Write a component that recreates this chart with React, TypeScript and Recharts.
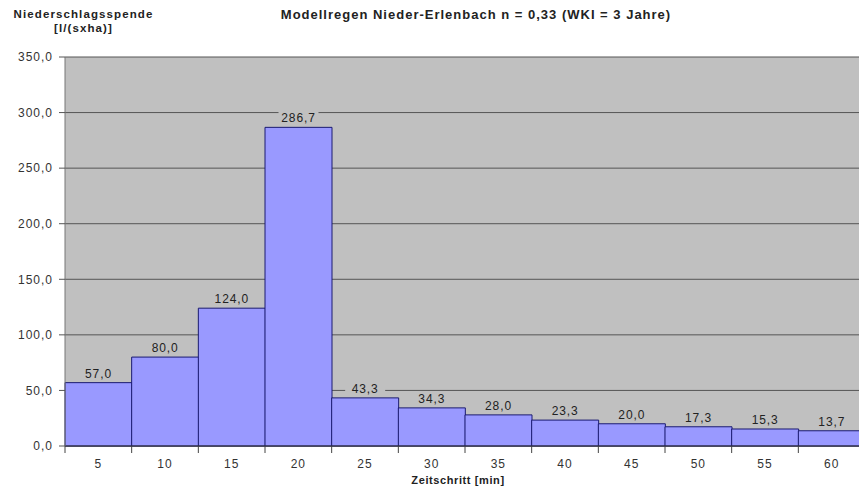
import { BarChart, Bar, XAxis, YAxis, CartesianGrid, LabelList } from 'recharts';

const minutes = [5, 10, 15, 20, 25, 30, 35, 40, 45, 50, 55, 60];
const spende = [57.0, 80.0, 124.0, 286.7, 43.3, 34.3, 28.0, 23.3, 20.0, 17.3, 15.3, 13.7];
const yTicks = [0, 50, 100, 150, 200, 250, 300, 350];

const data = minutes.map((m, i) => ({ min: m, value: spende[i] }));

const fmt = (v: number) => v.toFixed(1).replace('.', ',');
const FONT = '"Liberation Sans", Arial, sans-serif';
const BAND = 800 / 12;

function XTick(props: any) {
  const { x, y, payload } = props;
  return (
    <g>
      <line x1={x - BAND / 2} x2={x - BAND / 2} y1={y} y2={y + 7} stroke="#444" strokeWidth={1} />
      <text x={x} y={y + 22} textAnchor="middle" fontSize={12} fill="#333" fontFamily={FONT} letterSpacing={1}>
        {payload.value}
      </text>
    </g>
  );
}

function ValueLabel(props: any) {
  const { x, y, width, value } = props;
  const cx = x + width / 2;
  const cy = y - 9;
  return (
    <g>
      <rect x={cx - 20} y={cy - 7} width={40} height={13} fill="#C0C0C0" />
      <text x={cx} y={cy + 4} textAnchor="middle" fontSize={12} fill="#222" fontFamily={FONT} letterSpacing={0.9}>
        {fmt(value)}
      </text>
    </g>
  );
}

export default function App() {
  return (
    <div style={{ position: 'absolute', left: 0, top: 0, width: 859, height: 491, overflow: 'hidden', background: '#fff', fontFamily: FONT }}>
      <div style={{ position: 'absolute', left: 0, top: 7, width: 167, textAlign: 'center', fontSize: 11.5, fontWeight: 'bold', color: '#222', letterSpacing: 1.1, lineHeight: '14px' }}>
        Niederschlagsspende<br />[l/(sxha)]
      </div>
      <div style={{ position: 'absolute', left: 176, top: 7, width: 600, textAlign: 'center', fontSize: 13, fontWeight: 'bold', color: '#222', letterSpacing: 1 }}>
        Modellregen Nieder-Erlenbach n = 0,33 (WKI = 3 Jahre)
      </div>
      <div style={{ position: 'absolute', left: 358, top: 474, width: 200, textAlign: 'center', fontSize: 11, fontWeight: 'bold', color: '#222', letterSpacing: 0.6 }}>
        Zeitschritt [min]
      </div>
      <BarChart
        width={865}
        height={491}
        data={data}
        barCategoryGap={0}
        margin={{ top: 57, right: 0, left: 0, bottom: 0 }}
      >
        <CartesianGrid vertical={false} stroke="#555" fill="#C0C0C0" fillOpacity={1} />
        <XAxis
          dataKey="min"
          height={45}
          tickSize={0}
          tickMargin={0}
          tick={<XTick />}
          axisLine={{ stroke: '#333' }}
          interval={0}
        />
        <YAxis
          width={65}
          domain={[0, 350]}
          ticks={yTicks}
          tickFormatter={fmt}
          tickSize={6}
          tickMargin={6}
          axisLine={{ stroke: '#777' }}
          tickLine={{ stroke: '#555' }}
          tick={{ fontSize: 12, fill: '#333', fontFamily: FONT, letterSpacing: 1 }}
          interval={0}
        />
        <Bar dataKey="value" fill="#9999FF" stroke="#1a1a70" strokeWidth={1} isAnimationActive={false}>
          <LabelList dataKey="value" content={<ValueLabel />} />
        </Bar>
      </BarChart>
    </div>
  );
}
